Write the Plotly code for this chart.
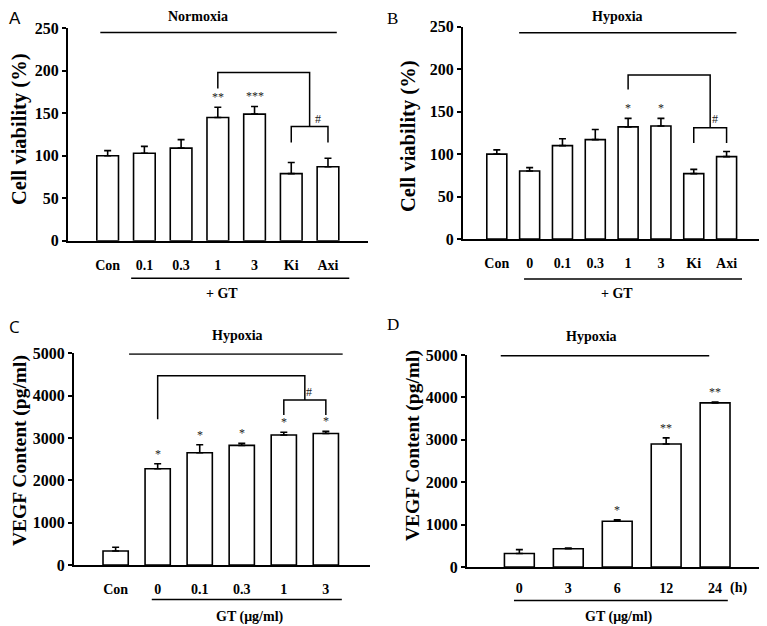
import plotly.graph_objects as go

# the page body adds an 8px margin, so the figure is drawn 8px smaller
# and every position below is given in window pixels
OFF = 8
W, H = 767 - OFF, 626 - OFF

# ---- data ----
a_labels = ["Con", "0.1", "0.3", "1", "3", "Ki", "Axi"]
a_mean = [100, 103, 109, 145, 149, 79, 87]
a_err = [6, 8, 10, 12, 9, 13, 10]
a_sig = ["", "", "", "**", "***", "", ""]

b_labels = ["Con", "0", "0.1", "0.3", "1", "3", "Ki", "Axi"]
b_mean = [100, 80, 110, 117, 132, 133, 77, 97]
b_err = [5, 4, 8, 12, 10, 9, 5, 6]
b_sig = ["", "", "", "", "*", "*", "", ""]

c_labels = ["Con", "0", "0.1", "0.3", "1", "3"]
c_mean = [330, 2275, 2650, 2825, 3070, 3105]
c_err = [90, 115, 190, 50, 65, 50]
c_sig = ["", "*", "*", "*", "*", "*"]

d_labels = ["0", "3", "6", "12", "24"]
d_mean = [320, 430, 1080, 2900, 3870]
d_err = [90, 15, 35, 145, 20]
d_sig = ["", "", "*", "**", "**"]

SERIF = "Liberation Serif"


def px(x):
    return (x - OFF) / W


def py(y):
    return 1 - (y - OFF) / H


fig = go.Figure()

panels = [
    # labels, mean, err, sig, xaxis, yaxis, bar width
    (a_labels, a_mean, a_err, a_sig, "x", "y", 0.59),
    (b_labels, b_mean, b_err, b_sig, "x2", "y2", 0.61),
    (c_labels, c_mean, c_err, c_sig, "x3", "y3", 0.6),
    (d_labels, d_mean, d_err, d_sig, "x4", "y4", 0.61),
]

for labels, mean, err, sig, xa, ya, bw in panels:
    fig.add_trace(go.Bar(
        x=labels, y=mean, xaxis=xa, yaxis=ya, width=bw,
        marker=dict(color="white", line=dict(color="black", width=1.6)),
        error_y=dict(type="data", array=err, arrayminus=[0] * len(err),
                     symmetric=False, color="black", thickness=1.6, width=3.5),
        showlegend=False, hoverinfo="skip",
    ))
    for i, s in enumerate(sig):
        if s:
            fig.add_annotation(x=i, y=mean[i] + err[i], xref=xa, yref=ya,
                               text=s, showarrow=False, xanchor="center",
                               yanchor="bottom", yshift=1,
                               font=dict(family=SERIF, size=12, color="#222"))

xbase = dict(type="category", showline=True, linecolor="black", linewidth=2,
             ticks="", showgrid=False, zeroline=False, automargin=False,
             tickfont=dict(family=SERIF, size=14, color="black", weight="bold"),
             ticklabelstandoff=10)
ybase = dict(showline=True, linecolor="black", linewidth=2, ticks="outside",
             ticklen=4, tickwidth=1.5, tickcolor="black", showgrid=False,
             zeroline=False, automargin=False,
             tickfont=dict(family=SERIF, size=16, color="black", weight="bold"))

fig.update_layout(
    template="none",
    width=W, height=H, margin=dict(l=0, r=0, t=0, b=0), autosize=False,
    plot_bgcolor="white", paper_bgcolor="white",
    xaxis=dict(xbase, domain=[px(68), px(368)], range=[-1.08, 7.09], anchor="y"),
    yaxis=dict(ybase, domain=[py(240.7), py(28.3)], range=[0, 250], dtick=50, anchor="x"),
    xaxis2=dict(xbase, domain=[px(463), px(764)], range=[-1.03, 8.14], anchor="y2"),
    yaxis2=dict(ybase, domain=[py(239), py(26.7)], range=[0, 250], dtick=50, anchor="x2"),
    xaxis3=dict(xbase, domain=[px(74), px(370)], range=[-0.99, 6.05], anchor="y3"),
    yaxis3=dict(ybase, domain=[py(565), py(353.3)], range=[0, 5000], dtick=1000, anchor="x3"),
    xaxis4=dict(xbase, domain=[px(467), px(765)], range=[-1.07, 5.02], anchor="y4",
                ticklabelstandoff=7),
    yaxis4=dict(ybase, domain=[py(567), py(355)], range=[0, 5000], dtick=1000, anchor="x4"),
)

line = dict(color="black", width=1.5)

# top condition lines
fig.add_shape(type="line", xref="x", yref="y", x0=-0.2, x1=6.24, y0=245, y1=245, line=line)
fig.add_shape(type="line", xref="x2", yref="y2", x0=0.68, x1=7.3, y0=243, y1=243, line=line)
fig.add_shape(type="line", xref="x3", yref="y3", x0=0.32, x1=5.4, y0=4985, y1=4985, line=line)
fig.add_shape(type="line", xref="x4", yref="y4", x0=-0.38, x1=3.88, y0=4985, y1=4985, line=line)

# comparison brackets
fig.add_shape(type="path", xref="x", yref="y", path="M 3,179 V 198 H 5.5 V 134.5", line=line)
fig.add_shape(type="path", xref="x", yref="y", path="M 5,115.5 V 134.5 H 6 V 115.5", line=line)
fig.add_shape(type="path", xref="x2", yref="y2", path="M 4,176 V 193 H 6.5 V 131", line=line)
fig.add_shape(type="path", xref="x2", yref="y2", path="M 6,113 V 131 H 7 V 113", line=line)
fig.add_shape(type="path", xref="x3", yref="y3", path="M 1,3441 V 4472 H 4.5 V 3898", line=line)
fig.add_shape(type="path", xref="x3", yref="y3", path="M 4,3543 V 3898 H 5 V 3543", line=line)

hash_font = dict(family=SERIF, size=12, color="#222")
fig.add_annotation(x=5.72, y=143, xref="x", yref="y", text="#", showarrow=False, font=hash_font)
fig.add_annotation(x=6.66, y=141.5, xref="x2", yref="y2", text="#", showarrow=False, font=hash_font)
fig.add_annotation(x=4.6, y=4094, xref="x3", yref="y3", text="#", showarrow=False, font=hash_font)

# bottom group lines
fig.add_shape(type="line", xref="x", yref="paper", x0=0.64, x1=6.58, y0=py(278.3), y1=py(278.3), line=line)
fig.add_shape(type="line", xref="x2", yref="paper", x0=0.83, x1=7.47, y0=py(279), y1=py(279), line=line)
fig.add_shape(type="line", xref="x3", yref="paper", x0=0.86, x1=5.38, y0=py(599.5), y1=py(599.5), line=line)
fig.add_shape(type="line", xref="x4", yref="paper", x0=-0.11, x1=4.26, y0=py(600.5), y1=py(600.5), line=line)

bold = dict(family=SERIF, size=14, color="black")
texts = [
    ("<b>Normoxia</b>", 198, 17),
    ("<b>Hypoxia</b>", 617, 17),
    ("<b>Hypoxia</b>", 237, 335),
    ("<b>Hypoxia</b>", 591, 336),
    ("<b>+ GT</b>", 222, 293),
    ("<b>+ GT</b>", 617, 293),
    ("<b>GT (μg/ml)</b>", 250, 617),
    ("<b>GT (μg/ml)</b>", 619, 617),
    ("<b>(h)</b>", 738.5, 587.5),
]
for t, x, y in texts:
    fig.add_annotation(x=px(x), y=py(y), xref="paper", yref="paper", text=t,
                       showarrow=False, xanchor="center", yanchor="middle", font=bold)

# y-axis titles
ytitles = [
    ("<b>Cell viability (%)</b>", 20, 130, 20.5),
    ("<b>Cell viability (%)</b>", 408, 137, 20.5),
    ("<b>VEGF Content (pg/ml)</b>", 20, 451, 19.5),
    ("<b>VEGF Content (pg/ml)</b>", 413, 446, 19.5),
]
for t, x, y, s in ytitles:
    fig.add_annotation(x=px(x), y=py(y), xref="paper", yref="paper", text=t,
                       textangle=-90, showarrow=False, xanchor="center", yanchor="middle",
                       font=dict(family=SERIF, size=s, color="black"))

# panel letters (kept inside the figure's top-left area)
letters = [("A", 8, 8, "Liberation Sans"), ("B", 386, 8, SERIF),
           ("C", 8, 314, "Open Sans"), ("D", 386, 314, SERIF)]
for t, x, y, f in letters:
    fig.add_annotation(x=px(x), y=py(y), xref="paper", yref="paper", text=t,
                       showarrow=False, xanchor="left", yanchor="top", borderpad=0,
                       font=dict(family=f, size=17, color="black"))

fig.write_html("out.html")
